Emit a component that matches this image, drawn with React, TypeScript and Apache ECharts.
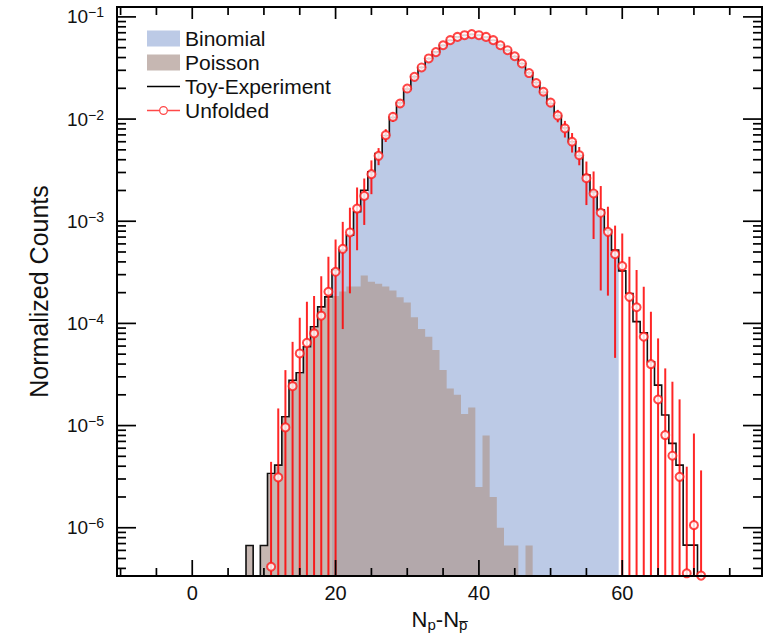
import React, { useEffect, useRef } from 'react';
import * as echarts from 'echarts';

const FONT = '"Liberation Sans", Arial, Helvetica, sans-serif';

const X_MIN = -10.5;
const X_MAX = 79.5;
const Y_MIN = 3.37e-7;
const Y_MAX = 0.125;

const binomialBins = [20, 21, 22, 23, 24, 25, 26, 27, 28, 29, 30, 31, 32, 33, 34, 35, 36, 37, 38, 39,
  40, 41, 42, 43, 44, 45, 46, 47, 48, 49, 50, 51, 52, 53, 54, 55, 56, 57, 58, 59];
const binomialValues = [3.3e-4, 5.2e-4, 7.8e-4, 1.25e-3, 1.9e-3, 2.95e-3, 4.4e-3, 6.8e-3, 1.03e-2, 1.42e-2,
  1.96e-2, 2.58e-2, 3.22e-2, 3.9e-2, 4.55e-2, 5.25e-2, 5.9e-2, 6.35e-2, 6.6e-2, 6.72e-2,
  6.62e-2, 6.35e-2, 5.92e-2, 5.3e-2, 4.7e-2, 4.1e-2, 3.48e-2, 2.85e-2, 2.3e-2, 1.84e-2,
  1.43e-2, 1.1e-2, 8.3e-3, 6.1e-3, 4.4e-3, 2.9e-3, 1.95e-3, 1.27e-3, 8.1e-4, 5.1e-4];

const poissonBins = [8, 9, 10, 11, 12, 13, 14, 15, 16, 17, 18, 19, 20, 21, 22, 23, 24, 25, 26, 27,
  28, 29, 30, 31, 32, 33, 34, 35, 36, 37, 38, 39, 40, 41, 42, 43, 44, 45, 46, 47];
const poissonValues = [6.7e-7, 0, 6.7e-7, 3.3e-6, 4.0e-6, 1.2e-5, 2.7e-5, 3.2e-5, 5.8e-5, 9.0e-5,
  1.4e-4, 1.75e-4, 1.85e-4, 2.05e-4, 2.3e-4, 2.3e-4, 2.95e-4, 2.55e-4, 2.45e-4, 2.3e-4,
  2.1e-4, 1.8e-4, 1.6e-4, 1.15e-4, 8.8e-5, 7.4e-5, 5.5e-5, 3.5e-5, 2.3e-5, 2.0e-5,
  1.3e-5, 1.5e-5, 2.5e-6, 8e-6, 2.0e-6, 1.0e-6, 6.7e-7, 6.7e-7, 0, 6.7e-7];

const toyBins = [8, 9, 10, 11, 12, 13, 14, 15, 16, 17, 18, 19, 20, 21, 22, 23, 24, 25, 26, 27,
  28, 29, 30, 31, 32, 33, 34, 35, 36, 37, 38, 39, 40, 41, 42, 43, 44, 45, 46, 47,
  48, 49, 50, 51, 52, 53, 54, 55, 56, 57, 58, 59, 60, 61, 62, 63, 64, 65, 66, 67,
  68, 69, 70];
const toyValues = [6.7e-7, 0, 6.7e-7, 3.4e-6, 4.1e-6, 1.22e-5, 2.78e-5, 3.29e-5, 5.9e-5, 9.27e-5,
  1.45e-4, 1.82e-4, 3.33e-4, 5.21e-4, 7.31e-4, 1.24e-3, 2.01e-3, 3.04e-3, 4.6e-3, 6.9e-3,
  1.04e-2, 1.44e-2, 1.97e-2, 2.6e-2, 3.22e-2, 3.92e-2, 4.55e-2, 5.26e-2, 5.9e-2, 6.37e-2,
  6.62e-2, 6.75e-2, 6.63e-2, 6.36e-2, 5.9e-2, 5.3e-2, 4.7e-2, 4.1e-2, 3.5e-2, 2.84e-2,
  2.28e-2, 1.83e-2, 1.42e-2, 1.08e-2, 8.2e-3, 6.0e-3, 4.4e-3, 2.83e-3, 1.94e-3, 1.29e-3,
  8.19e-4, 5.21e-4, 3.27e-4, 1.96e-4, 1.04e-4, 8.1e-5, 4.2e-5, 2.49e-5, 1.27e-5, 6.7e-6,
  4.1e-6, 6.76e-7, 6.76e-7];

const unfoldedBins = [11, 12, 13, 14, 15, 16, 17, 18, 19, 20, 21, 22, 23, 24, 25, 26, 27, 28, 29, 30,
  31, 32, 33, 34, 35, 36, 37, 38, 39, 40, 41, 42, 43, 44, 45, 46, 47, 48, 49, 50,
  51, 52, 53, 54, 55, 56, 57, 58, 59, 60, 61, 62, 63, 64, 65, 66, 67, 68, 69, 70, 71];
const unfoldedValues = [4.15e-7, 3.11e-6, 9.6e-6, 2.43e-5, 5.08e-5, 6.45e-5, 7.98e-5, 1.19e-4, 2.04e-4, 3.2e-4,
  5.37e-4, 7.77e-4, 1.33e-3, 1.77e-3, 2.89e-3, 4.37e-3, 6.96e-3, 1.05e-2, 1.42e-2, 1.99e-2,
  2.59e-2, 3.2e-2, 3.92e-2, 4.52e-2, 5.28e-2, 5.92e-2, 6.37e-2, 6.62e-2, 6.78e-2, 6.62e-2,
  6.37e-2, 5.92e-2, 5.28e-2, 4.72e-2, 4.12e-2, 3.5e-2, 2.82e-2, 2.25e-2, 1.85e-2, 1.45e-2,
  1.08e-2, 8.1e-3, 6.0e-3, 4.43e-3, 2.64e-3, 1.87e-3, 1.21e-3, 7.87e-4, 4.76e-4, 3.64e-4,
  1.82e-4, 1.44e-4, 7.4e-5, 4.0e-5, 1.8e-5, 8.07e-6, 5.07e-6, 3.15e-6, 3.58e-7, 1.06e-6, 3.4e-7];
const unfoldedErrors = [4.0e-6, 1.16e-5, 2.53e-5, 4.17e-5, 6.3e-5, 9.85e-5, 1.06e-4, 1.71e-4, 2.45e-4, 3.44e-4,
  4.49e-4, 5.8e-4, 8.1e-4, 8.5e-4, 1.05e-3, 8.3e-4, 1.0e-3, 1.1e-3, 1.2e-3, 1.3e-3,
  1.3e-3, 1.3e-3, 1.3e-3, 1.3e-3, 1.3e-3, 1.3e-3, 1.3e-3, 1.3e-3, 1.3e-3, 1.3e-3,
  1.3e-3, 1.3e-3, 1.4e-3, 1.4e-3, 1.4e-3, 1.4e-3, 1.4e-3, 1.4e-3, 1.4e-3, 1.4e-3,
  1.5e-3, 1.5e-3, 1.3e-3, 9.0e-4, 1.2e-3, 1.2e-3, 1.0e-3, 6.0e-4, 4.3e-4, 3.96e-4,
  2.67e-4, 1.89e-4, 1.54e-4, 9.0e-5, 5.33e-5, 2.82e-5, 2.18e-5, 1.49e-5, 3.6e-6, 7.3e-6, 3.3e-6];

const xTickLabels = [0, 20, 40, 60];
const xMinorTicks = [-10, -5, 5, 10, 15, 25, 30, 35, 45, 50, 55, 65, 70, 75];
const yTickLabels = [1e-6, 1e-5, 1e-4, 1e-3, 1e-2, 1e-1];
const yMinorMultipliers = [2, 3, 4, 5, 6, 7, 8, 9];

const BLUE = '#bccae6';
const BROWN = 'rgba(176,155,148,0.72)';

function histPoints(api: any, bins: number[], values: number[]) {
  const pts: number[][] = [];
  pts.push(api.coord([bins[0] - 0.5, Y_MIN]));
  bins.forEach((b, i) => {
    const v = Math.max(values[i], Y_MIN);
    pts.push(api.coord([b - 0.5, v]));
    pts.push(api.coord([b + 0.5, v]));
  });
  pts.push(api.coord([bins[bins.length - 1] + 0.5, Y_MIN]));
  return pts;
}

function histFill(name: string, bins: number[], values: number[], color: string, z: number) {
  return {
    type: 'custom',
    name,
    coordinateSystem: 'cartesian2d',
    silent: true,
    z,
    itemStyle: { color },
    encode: { x: 0, y: 1 },
    data: bins.map((b, i) => [b, Math.max(values[i], Y_MIN)]),
    renderItem: (params: any, api: any) => {
      if (params.dataIndex !== 0) return null;
      return {
        type: 'polygon',
        shape: { points: histPoints(api, bins, values) },
        style: { fill: color, stroke: null },
      };
    },
  };
}

export default function App() {
  const ref = useRef<HTMLDivElement>(null);

  useEffect(() => {
    if (!ref.current) return;
    const chart = echarts.init(ref.current, null, { renderer: 'svg' });

    const yMinor: number[] = [];
    [1e-7, 1e-6, 1e-5, 1e-4, 1e-3, 1e-2].forEach((d) =>
      yMinorMultipliers.forEach((m) => {
        const v = d * m;
        if (v > Y_MIN && v < Y_MAX) yMinor.push(v);
      })
    );

    const xTickData = [
      ...xTickLabels.map((x) => [x, Y_MAX, 1]),
      ...xMinorTicks.map((x) => [x, Y_MAX, 0]),
    ];
    const yTickData = [
      ...yTickLabels.map((y) => [X_MIN, y, 1]),
      ...yMinor.map((y) => [X_MIN, y, 0]),
    ];

    const tickStyle = { stroke: '#000', lineWidth: 1.7 };

    const option: any = {
      animation: false,
      backgroundColor: '#fff',
      textStyle: { fontFamily: FONT },
      grid: {
        left: 117,
        right: 15,
        top: 7,
        bottom: 65,
        show: true,
        borderColor: '#000',
        borderWidth: 2,
        backgroundColor: 'transparent',
        containLabel: false,
        outerBoundsMode: 'none',
        z: 10,
      },
      legend: {
        orient: 'vertical',
        left: 147,
        top: 28,
        itemWidth: 33,
        itemHeight: 16,
        itemGap: 3,
        padding: 0,
        selectedMode: false,
        textStyle: { fontSize: 21, color: '#111', fontFamily: FONT },
        data: [
          { name: 'Binomial', icon: 'rect' },
          { name: 'Poisson', icon: 'rect' },
          { name: 'Toy-Experiment', icon: 'path://M0,0H33V1.6H0Z' },
          {
            name: 'Unfolded',
            icon:
              'path://M0,3.7H12V5.3H0Z M21,3.7H33V5.3H21Z M12,4.5A4.5,4.5 0 1,0 21,4.5A4.5,4.5 0 1,0 12,4.5Z M13.3,4.5A3.2,3.2 0 1,1 19.7,4.5A3.2,3.2 0 1,1 13.3,4.5Z',
          },
        ],
      },
      xAxis: {
        type: 'value',
        min: X_MIN,
        max: X_MAX,
        axisLine: { show: false },
        axisTick: { show: false },
        splitLine: { show: false },
        axisLabel: {
          margin: 7,
          fontSize: 20,
          color: '#111',
          fontFamily: FONT,
          showMinLabel: false,
          showMaxLabel: false,
          formatter: (v: number) => (xTickLabels.indexOf(v) >= 0 ? String(v) : ''),
        },
        name: '{n|N}{s|p}{n|-N}{s|p\u0305}',
        nameLocation: 'middle',
        nameGap: 30,
        nameTextStyle: {
          rich: {
            n: { fontSize: 22, color: '#111', fontFamily: FONT, lineHeight: 26 },
            s: { fontSize: 15, color: '#111', fontFamily: FONT, lineHeight: 15, verticalAlign: 'bottom' },
          },
        },
      },
      yAxis: {
        type: 'log',
        logBase: 10,
        min: Y_MIN,
        max: Y_MAX,
        axisLine: { show: false },
        axisTick: { show: false },
        splitLine: { show: false },
        minorTick: { show: false },
        axisLabel: {
          margin: 13,
          color: '#111',
          fontFamily: FONT,
          showMinLabel: false,
          showMaxLabel: false,
          formatter: (v: number) => {
            const l = Math.log10(v);
            const e = Math.round(l);
            if (Math.abs(l - e) > 1e-6) return '';
            return '{b|10}{s|\u2212' + Math.abs(e) + '}';
          },
          rich: {
            b: { fontSize: 19, lineHeight: 23, verticalAlign: 'middle', color: '#111', fontFamily: FONT },
            s: { fontSize: 14, lineHeight: 14, verticalAlign: 'top', color: '#111', fontFamily: FONT },
          },
        },
        name: 'Normalized Counts',
        nameLocation: 'middle',
        nameGap: 66,
        nameTextStyle: { fontSize: 25, color: '#111', fontFamily: FONT },
      },
      series: [
        histFill('Binomial', binomialBins, binomialValues, BLUE, 1),
        histFill('Poisson', poissonBins, poissonValues, BROWN, 2),
        {
          type: 'custom',
          name: 'Toy-Experiment',
          coordinateSystem: 'cartesian2d',
          silent: true,
          z: 3,
          itemStyle: { color: '#000' },
          encode: { x: 0, y: 1 },
          data: toyBins.map((b, i) => [b, Math.max(toyValues[i], Y_MIN)]),
          renderItem: (params: any, api: any) => {
            if (params.dataIndex !== 0) return null;
            return {
              type: 'polyline',
              shape: { points: histPoints(api, toyBins, toyValues) },
              style: { stroke: '#111', lineWidth: 1.6, fill: null },
            };
          },
        },
        {
          type: 'custom',
          name: 'errors',
          coordinateSystem: 'cartesian2d',
          silent: true,
          z: 4,
          encode: { x: 0, y: 1 },
          data: unfoldedBins.map((b, i) => [b, unfoldedValues[i], unfoldedErrors[i]]),
          renderItem: (params: any, api: any) => {
            const x = api.value(0);
            const v = api.value(1);
            const e = api.value(2);
            const lo = Math.max(v - e, Y_MIN);
            const hi = Math.min(v + e, Y_MAX);
            const p1 = api.coord([x, lo]);
            const p2 = api.coord([x, hi]);
            return {
              type: 'line',
              shape: { x1: p1[0], y1: p1[1], x2: p2[0], y2: p2[1] },
              style: { stroke: 'rgba(255,0,0,0.85)', lineWidth: 2 },
            };
          },
        },
        {
          type: 'scatter',
          name: 'Unfolded',
          z: 5,
          silent: true,
          symbol: 'emptyCircle',
          symbolSize: 8,
          itemStyle: { color: '#ff1a1a', borderWidth: 1.3 },
          data: unfoldedBins.map((b, i) => [b, unfoldedValues[i]]),
        },
        {
          type: 'custom',
          name: 'xticks',
          coordinateSystem: 'cartesian2d',
          silent: true,
          z: 8,
          encode: { x: 0, y: 1 },
          data: xTickData,
          renderItem: (params: any, api: any) => {
            const cs = params.coordSys;
            const major = api.value(2) === 1;
            const px = api.coord([api.value(0), Y_MAX])[0];
            const bottom = cs.y + cs.height;
            return {
              type: 'group',
              children: [
                { type: 'line', shape: { x1: px, y1: bottom, x2: px, y2: bottom - (major ? 16 : 8) }, style: tickStyle },
                { type: 'line', shape: { x1: px, y1: cs.y, x2: px, y2: cs.y + (major ? 12 : 8) }, style: tickStyle },
              ],
            };
          },
        },
        {
          type: 'custom',
          name: 'yticks',
          coordinateSystem: 'cartesian2d',
          silent: true,
          z: 8,
          encode: { x: 0, y: 1 },
          data: yTickData,
          renderItem: (params: any, api: any) => {
            const cs = params.coordSys;
            const major = api.value(2) === 1;
            const py = api.coord([X_MIN, api.value(1)])[1];
            const right = cs.x + cs.width;
            const len = major ? 19 : 9;
            return {
              type: 'group',
              children: [
                { type: 'line', shape: { x1: cs.x, y1: py, x2: cs.x + len, y2: py }, style: tickStyle },
                { type: 'line', shape: { x1: right, y1: py, x2: right - len, y2: py }, style: tickStyle },
              ],
            };
          },
        },
      ],
    };

    chart.setOption(option);
    return () => chart.dispose();
  }, []);

  return (
    <div
      ref={ref}
      style={{ position: 'absolute', left: 0, top: 0, width: 777, height: 641, background: '#fff' }}
    />
  );
}
